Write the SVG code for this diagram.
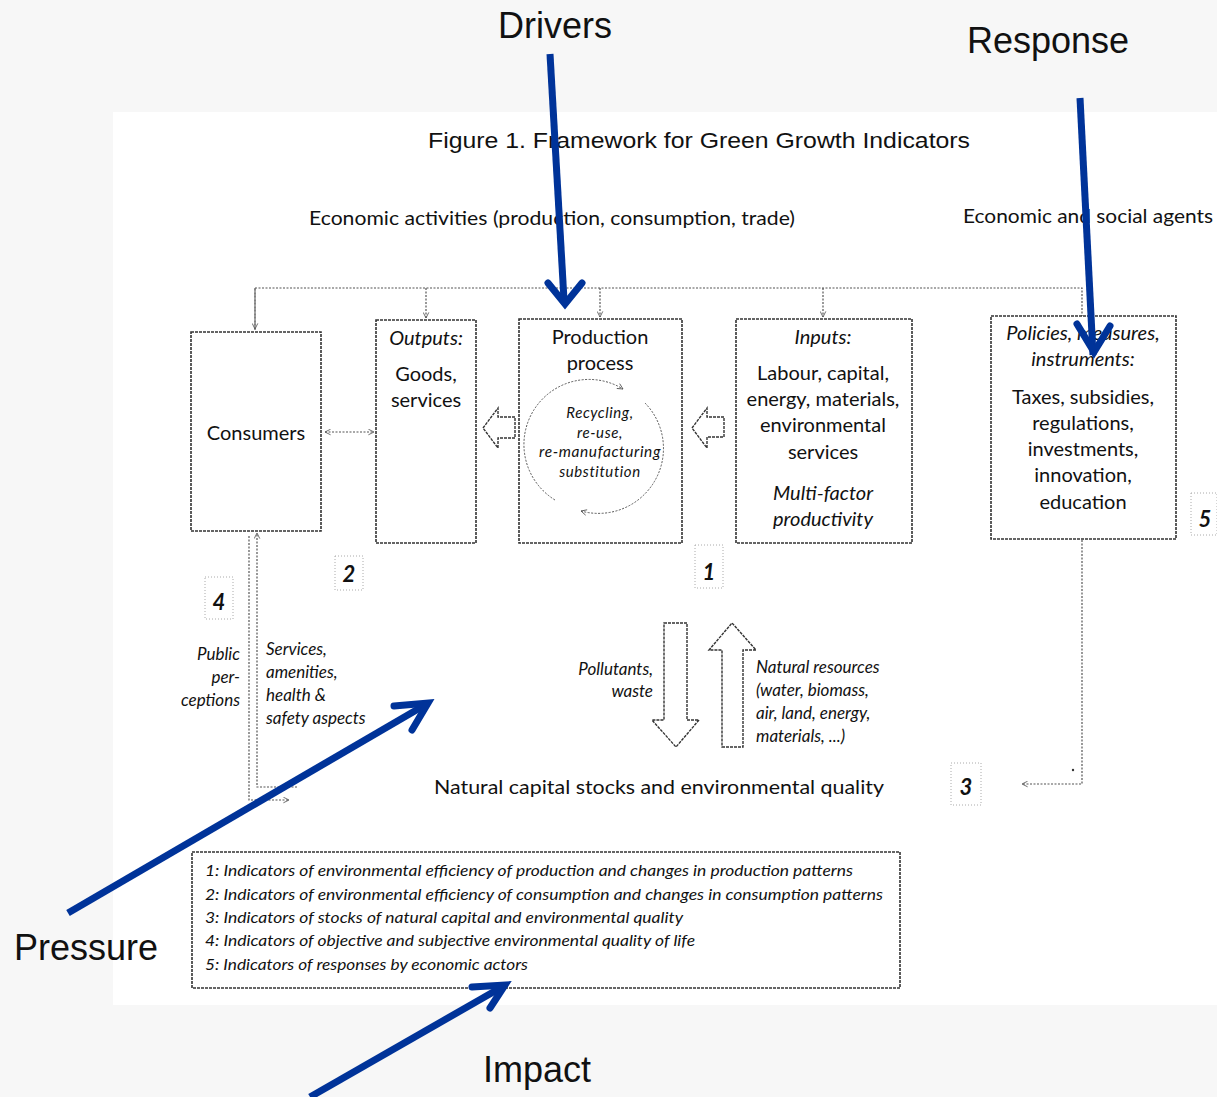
<svg xmlns="http://www.w3.org/2000/svg" width="1217" height="1097" viewBox="0 0 1217 1097">
<style>
.t{font-family:Lato,"Open Sans","Liberation Sans",sans-serif;fill:#111;}
.m{font-size:20px;text-anchor:middle;}
.i{font-style:italic;}
.s{font-size:17px;}
.c{font-size:15px;text-anchor:middle;font-style:italic;letter-spacing:0.6px;}
.lg{font-size:15px;font-style:italic;}
.big{font-family:"Liberation Sans",Arial,sans-serif;font-size:36px;fill:#111;text-anchor:middle;}
.ttl{font-family:"Liberation Sans",Arial,sans-serif;font-size:22px;fill:#111;text-anchor:middle;}
.num{font-family:Lato,"Liberation Sans",sans-serif;font-size:22px;font-weight:bold;font-style:italic;text-anchor:middle;fill:#111;}
.box{fill:#fff;stroke:#333;stroke-width:1.6;stroke-dasharray:3 1;}
.nb{fill:none;stroke:#aaa;stroke-width:1;stroke-dasharray:1 2;}
.con{fill:none;stroke:#555;stroke-width:1.2;stroke-dasharray:2 1.5;}
.arc{fill:none;stroke:#555;stroke-width:1;stroke-dasharray:2 1.5;}
.blk{fill:#fff;stroke:#333;stroke-width:1.4;stroke-dasharray:3 1;}
.blue{fill:none;stroke:#003399;stroke-width:7;stroke-linecap:butt;stroke-linejoin:miter;}
.bluehead{fill:none;stroke:#003399;stroke-width:7;stroke-linecap:round;stroke-linejoin:miter;}
</style>
<defs>
<marker id="oa" viewBox="0 0 10 10" refX="9" refY="5" markerWidth="7" markerHeight="7" orient="auto-start-reverse" markerUnits="userSpaceOnUse">
<path d="M1,1 L9,5 L1,9" fill="none" stroke="#555" stroke-width="1.2"/>
</marker>
</defs>
<rect x="0" y="0" width="1217" height="1097" fill="#f7f7f7"/>
<rect x="113" y="112" width="1104" height="893" fill="#fff"/>

<text class="ttl" x="699" y="148" textLength="542" lengthAdjust="spacingAndGlyphs">Figure 1. Framework for Green Growth Indicators</text>
<text class="t" x="309" y="225" font-size="20" textLength="486" lengthAdjust="spacingAndGlyphs">Economic activities (production, consumption, trade)</text>
<text class="t" x="963" y="223" font-size="20" textLength="250" lengthAdjust="spacingAndGlyphs">Economic and social agents</text>

<g id="connectors">
<path class="con" d="M255,330 V288 H1082 V316"/>
<path class="con" d="M255,288 V329" marker-end="url(#oa)"/>
<path class="con" d="M426,288 V318" marker-end="url(#oa)"/>
<path class="con" d="M600,288 V317" marker-end="url(#oa)"/>
<path class="con" d="M823,288 V317" marker-end="url(#oa)"/>
<path class="con" d="M325,432 H374" marker-start="url(#oa)" marker-end="url(#oa)"/>
<path class="con" d="M297,787 H257 V533" marker-end="url(#oa)"/>
<path class="con" d="M249,536 V800 H289" marker-end="url(#oa)"/>
<path class="con" d="M1082,540 V784 H1022" marker-end="url(#oa)"/>
<circle cx="1073" cy="770" r="1.2" fill="#333"/>
<path class="blk" d="M483,428 L498,408 V417 H515 V438 H498 V448 Z"/>
<path class="blk" d="M692,428 L707,408 V417 H724 V437 H707 V448 Z"/>
<path class="blk" d="M664,623 H687 V720 H699 L676,747 L652,720 H664 Z"/>
<path class="blk" d="M722,747 H743 V650 H756 L732,623 L709,650 H722 Z"/>
</g>

<g id="consumers">
<rect class="box" x="191" y="332" width="130" height="199"/>
<text class="t m" x="256" y="440">Consumers</text>
</g>
<g id="outputs">
<rect class="box" x="376" y="320" width="100" height="223"/>
<text class="t m i" x="426" y="345">Outputs:</text>
<text class="t m" x="426" y="381">Goods,</text>
<text class="t m" x="426" y="407">services</text>
</g>
<g id="production">
<rect class="box" x="519" y="319" width="163" height="224"/>
<text class="t m" x="600" y="344">Production</text>
<text class="t m" x="600" y="370">process</text>
<path class="arc" d="M555,500 A65,65 0 0 1 623,389" marker-end="url(#oa)"/>
<path class="arc" d="M645,403 A65,65 0 0 1 581,511" marker-end="url(#oa)"/>
<text class="t c" x="600" y="418">Recycling,</text>
<text class="t c" x="600" y="438">re-use,</text>
<text class="t c" x="600" y="457" textLength="122" lengthAdjust="spacingAndGlyphs">re-manufacturing</text>
<text class="t c" x="600" y="477">substitution</text>
</g>
<g id="inputs">
<rect class="box" x="736" y="319" width="176" height="224"/>
<text class="t m i" x="823" y="344">Inputs:</text>
<text class="t m" x="823" y="380">Labour, capital,</text>
<text class="t m" x="823" y="406">energy, materials,</text>
<text class="t m" x="823" y="432">environmental</text>
<text class="t m" x="823" y="459">services</text>
<text class="t m i" x="823" y="500">Multi-factor</text>
<text class="t m i" x="823" y="526">productivity</text>
</g>
<g id="policies">
<rect class="box" x="991" y="316" width="185" height="223"/>
<text class="t m i" x="1083" y="340">Policies, measures,</text>
<text class="t m i" x="1083" y="366">instruments:</text>
<text class="t m" x="1083" y="404">Taxes, subsidies,</text>
<text class="t m" x="1083" y="430">regulations,</text>
<text class="t m" x="1083" y="456">investments,</text>
<text class="t m" x="1083" y="482">innovation,</text>
<text class="t m" x="1083" y="509">education</text>
</g>

<g id="numbers">
<rect class="nb" x="335" y="556" width="28" height="34"/>
<text class="num" x="349" y="582">2</text>
<rect class="nb" x="695" y="545" width="28" height="43"/>
<text class="num" x="709" y="580">1</text>
<rect class="nb" x="205" y="577" width="28" height="42"/>
<text class="num" x="219" y="610">4</text>
<rect class="nb" x="1191" y="493" width="26" height="42"/>
<text class="num" x="1205" y="527">5</text>
<rect class="nb" x="951" y="763" width="30" height="42"/>
<text class="num" x="966" y="795">3</text>
</g>

<g id="side-labels">
<text class="t s i" x="240" y="660" text-anchor="end">Public</text>
<text class="t s i" x="240" y="683" text-anchor="end">per-</text>
<text class="t s i" x="240" y="706" text-anchor="end">ceptions</text>
<text class="t s i" x="266" y="655">Services,</text>
<text class="t s i" x="266" y="678">amenities,</text>
<text class="t s i" x="266" y="701">health &amp;</text>
<text class="t s i" x="266" y="724">safety aspects</text>
<text class="t s i" x="653" y="675" text-anchor="end">Pollutants,</text>
<text class="t s i" x="653" y="697" text-anchor="end">waste</text>
<text class="t s i" x="756" y="673">Natural resources</text>
<text class="t s i" x="756" y="696">(water, biomass,</text>
<text class="t s i" x="756" y="719">air, land, energy,</text>
<text class="t s i" x="756" y="742">materials, ...)</text>
</g>

<g id="natural-capital">
<text class="t" x="434" y="794" font-size="20" textLength="450" lengthAdjust="spacingAndGlyphs">Natural capital stocks  and environmental quality</text>
</g>

<g id="legend">
<rect class="box" x="192" y="852" width="708" height="136"/>
<text class="t lg" x="205" y="876" textLength="648" lengthAdjust="spacingAndGlyphs">1: Indicators of environmental efficiency of production and changes in production patterns</text>
<text class="t lg" x="205" y="900" textLength="678" lengthAdjust="spacingAndGlyphs">2: Indicators of environmental efficiency of consumption and changes in consumption patterns</text>
<text class="t lg" x="205" y="923" textLength="478" lengthAdjust="spacingAndGlyphs">3: Indicators of stocks of natural capital and environmental quality</text>
<text class="t lg" x="205" y="946" textLength="490" lengthAdjust="spacingAndGlyphs">4: Indicators of objective and subjective environmental quality of life</text>
<text class="t lg" x="205" y="970" textLength="323" lengthAdjust="spacingAndGlyphs">5: Indicators of responses by economic actors</text>
</g>

<g id="dpsir">
<text class="big" x="555" y="38">Drivers</text>
<text class="big" x="1048" y="53">Response</text>
<text class="big" x="86" y="960">Pressure</text>
<text class="big" x="537" y="1082">Impact</text>
<path class="blue" d="M550,54 L564,300"/>
<path class="bluehead" d="M548,283 L565,304 L582,283"/>
<path class="blue" d="M1080,98 L1093,355"/>
<path class="bluehead" d="M1077,324 L1094,352 L1110,326"/>
<path class="blue" d="M68,913 L425,705"/>
<path class="bluehead" d="M394,706 L428,703 L412,730"/>
<path class="blue" d="M310,1097 L502,987"/>
<path class="bluehead" d="M472,987 L505,985 L490,1008"/>
</g>
</svg>
